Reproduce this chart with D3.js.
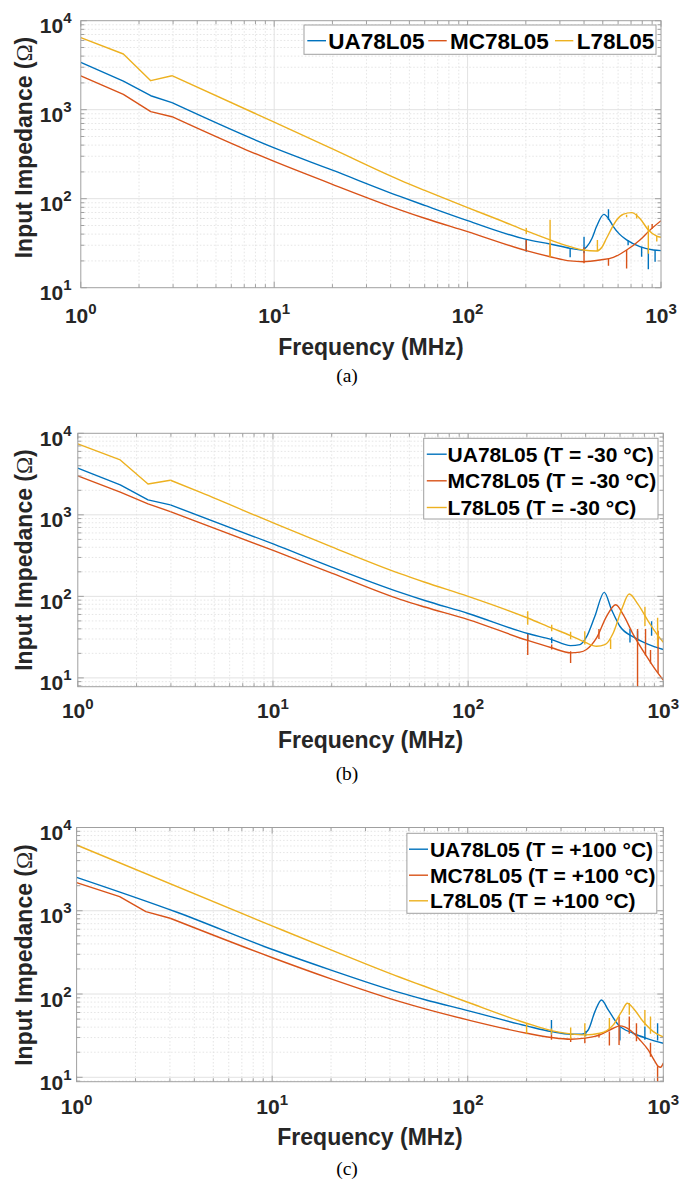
<!DOCTYPE html>
<html><head><meta charset="utf-8">
<script src="https://cdn.jsdelivr.net/npm/d3@7"></script>
<style>body{margin:0;background:#fff}svg{display:block}</style>
</head><body>
<svg id="chart" width="694" height="1180"></svg>
<script>
// ---------- tick labels ----------
const xTicks = [1, 10, 100, 1000];
const xTickExp = ['0', '1', '2', '3'];
const yTicks = [10, 100, 1000, 10000];
const yTickExp = ['1', '2', '3', '4'];

// ---------- legend labels ----------
const legendA = ['UA78L05', 'MC78L05', 'L78L05'];
const legendB = ['UA78L05 (T = -30 °C)', 'MC78L05 (T = -30 °C)', 'L78L05 (T = -30 °C)'];
const legendC = ['UA78L05 (T = +100 °C)', 'MC78L05 (T = +100 °C)', 'L78L05 (T = +100 °C)'];
const colors = ['#0072BD', '#D95319', '#EDB120'];

// ---------- (a) room temperature : [MHz, Ohm] ----------
const uaA = [[1,3410],[1.66,2100],[2.3,1435],[2.96,1200],[10,372],[20,209],[44.7,106],[60,84],[100,56.6],[201,34.9],[267,31],[339,27.7],[389,26.5],[413,28.9],[440,36],[464,48.6],[507,66.7],[540,58],[567,48.6],[610,40],[664,34.4],[778,28.9],[912,26.5],[1000,26.1]];
const mcA = [[1,2393],[1.66,1490],[2.3,951],[2.96,834],[7.2,352],[10,262],[20,145],[44.7,75],[60,60.3],[100,42.6],[201,26.1],[267,22.3],[339,20],[396,19.6],[484,20.5],[567,21.9],[664,26.5],[778,34.4],[878,44.5],[1000,56.6]];
const lA = [[1,6440],[1.66,4226],[2.3,2118],[2.96,2410],[10,725],[20,363],[44.7,162],[60,124],[100,79.3],[147,57.3],[201,43.5],[267,34.4],[339,28.9],[396,26.5],[464,25.8],[495,28.5],[523,35.9],[590,57.7],[640,67],[705,69.7],[778,60],[860,44.5],[951,38],[1000,36.8]];
// spikes : [MHz, Ohm from, Ohm to]
const uaSpA = [[201,34.9,25.4],[339,27.7,22],[400,37.4,24.4],[535,57.7,76],[676,34,30],[794,28.9,22.3],[860,28,16.1],[932,26.5,19.6]];
const mcSpA = [[201,26.1,34.4],[267,22.3,32],[400,28.4,18.8],[535,21.3,17.6],[664,26.5,16.4],[900,46,52]];
const lSpA = [[201,40,47],[267,22,58],[469,25.8,34.4],[664,66,62],[748,68,60],[860,50,24],[951,38,33]];

// ---------- (b) T = -30 °C ----------
const uaB = [[1,3730],[1.65,2330],[2.29,1528],[2.98,1325],[10.1,437],[20,229],[44.8,112],[60,89],[100,61.7],[202,35],[268,29.5],[335,24.9],[374,25.6],[404,31.8],[446,57],[498,112],[543,68.7],[599,43],[702,31.8],[820,26.4],[1000,22.3]];
const mcB = [[1,3000],[1.65,1900],[2.29,1365],[2.98,1096],[10.1,363],[20,193],[44.8,92],[60,74],[100,51.9],[202,28.8],[268,23.4],[335,20.3],[374,20.7],[404,22.3],[455,30.9],[512,57],[571,79],[623,59.7],[702,34],[820,18.5],[923,12.1],[1000,9.4]];
const lB = [[1,7400],[1.65,4710],[2.29,2390],[2.98,2660],[4.29,1875],[10.1,790],[20,405],[44.8,190],[60,149],[100,100],[202,54.3],[268,41],[335,33],[396,27.4],[455,24.4],[502,25.6],[554,35.6],[611,68.7],[669,107],[744,79],[838,49.4],[923,35],[1000,27.4]];
const uaSpB = [[202,35,28.3],[268,31.6,26.7],[675,39.8,27.1],[738,37.9,28.3],[871,49.7,32.9]];
const mcSpB = [[202,34,19.1],[268,25.7,22.3],[335,21.2,15.2],[468,39.8,30.1],[738,39.8,6],[811,39.8,18.8],[860,22,15],[940,38,11.5]];
const lSpB = [[202,65.5,45],[268,45,37.4],[335,36.7,29.8],[396,37.4,25.7],[537,29.8,22.6],[805,74.8,43.2],[935,54.5,24.5]];

// ---------- (c) T = +100 °C ----------
const uaC = [[1,2523],[3.26,960],[10.2,338],[20,194],[45,104],[60,86],[100,63.2],[200,41.4],[268,35.4],[336,32.9],[382,32.9],[413,37],[447,61.5],[483,84.9],[523,64.4],[589,42.6],[702,33.8],[820,29.4],[1000,25.6]];
const mcC = [[1,2173],[1.66,1476],[2.26,975],[3.01,813],[10.2,269],[20,152],[45,81],[60,66.7],[100,48.9],[200,33.8],[268,30],[336,28.6],[397,29.5],[474,32.3],[555,38.8],[600,41.4],[675,37],[759,28.1],[837,21.3],[906,15.5],[942,13.5],[968,13.2],[1000,14.8]];
const lC = [[1,6166],[10.2,645],[20,339],[45,159],[60,124],[100,79.6],[200,44.6],[268,36.4],[336,33.2],[397,32.3],[474,33.8],[555,42.6],[612,61.5],[655,77.5],[702,67.5],[789,46.7],[889,35.4],[1000,30.5]];
const uaSpC = [[268,48.8,32.6],[401,36,31],[600,40.7,27.6],[805,40.7,28.2],[935,44.6,27.6]];
const mcSpC = [[268,32.6,28.2],[336,30,26.5],[397,29.6,25.6],[469,33,30],[530,35.5,24.1],[594,53.6,24.5],[670,53.6,33.3],[729,44.6,27],[860,25.9,17.6],[935,13.6,8]];
const lSpC = [[200,44.6,33.3],[268,38.6,33.3],[336,39.7,28.7],[397,44.6,30.2],[530,51.7,38.6],[670,77.8,56.2],[805,64.5,42],[860,53.6,33.3]];

// ---------- layout ----------
const panels = [
  {series:[uaA,mcA,lA], spikes:[uaSpA,mcSpA,lSpA], legend:legendA, yMin:10,
   L:80.8, R:661, T:20.7, B:287.7, tickBase:323.3, xLabBase:355, yLabX:32.3, yLabCY:147.5,
   cap:'(a)', capBase:382, leg:{mode:'row', box:[304,25,656,54.3], fs:22.5, lineY:40.7, base:49.3,
   items:[[307.3,326,328.3],[428.3,446.7,450],[555,573.3,576.7]]}},
  {series:[uaB,mcB,lB], spikes:[uaSpB,mcSpB,lSpB], legend:legendB, yMin:7.8,
   L:77.8, R:663.3, T:433.3, B:686.7, tickBase:718.3, xLabBase:748.3, yLabX:32, yLabCY:560,
   cap:'(b)', capBase:780, leg:{mode:'col', box:[423.7,438.3,658,519], fs:21, x1:426.8, x2:446.7, tx:447.6,
   bases:[461.7,488.3,515]}},
  {series:[uaC,mcC,lC], spikes:[uaSpC,mcSpC,lSpC], legend:legendC, yMin:8.85,
   L:76.6, R:663.3, T:827.5, B:1081.7, tickBase:1114, xLabBase:1145, yLabX:31.5, yLabCY:955,
   cap:'(c)', capBase:1174.5, leg:{mode:'col', box:[406.9,833.3,656.8,913.3], fs:21, x1:409, x2:428, tx:429.9,
   bases:[856.7,882.7,908.3]}}
];

const svg = d3.select('#chart');
const SANS = "'Liberation Sans', Arial, Helvetica, sans-serif";
const SERIF = "'Liberation Serif', 'Times New Roman', serif";
const frameColor = '#a0a0a0';
const textColor = '#262626';

panels.forEach((p, pi) => {
  const x = d3.scaleLog().domain([1, 1000]).range([p.L, p.R]);
  const y = d3.scaleLog().domain([p.yMin, 10000]).range([p.B, p.T]);
  const g = svg.append('g');

  const xMinor = [], yMinor = [];
  [1, 10, 100].forEach(d => { for (let k = 2; k <= 9; k++) xMinor.push(d * k); });
  [1, 10, 100, 1000].forEach(d => { for (let k = 2; k <= 9; k++) { const v = d * k; if (v >= p.yMin && v <= 10000) yMinor.push(v); } });

  // grid
  const grid = g.append('g');
  grid.selectAll('.xm').data(xMinor).join('line')
    .attr('x1', d => x(d)).attr('x2', d => x(d)).attr('y1', p.T).attr('y2', p.B)
    .attr('stroke', '#dedede').attr('stroke-width', 0.8).attr('stroke-dasharray', '1.5,2');
  grid.selectAll('.ym').data(yMinor).join('line')
    .attr('y1', d => y(d)).attr('y2', d => y(d)).attr('x1', p.L).attr('x2', p.R)
    .attr('stroke', '#dedede').attr('stroke-width', 0.8).attr('stroke-dasharray', '1.5,2');
  grid.selectAll('.xM').data(xTicks.slice(1, -1)).join('line')
    .attr('x1', d => x(d)).attr('x2', d => x(d)).attr('y1', p.T).attr('y2', p.B)
    .attr('stroke', '#e2e2e2').attr('stroke-width', 1);
  grid.selectAll('.yM').data(yTicks.filter(v => v > p.yMin && v < 10000)).join('line')
    .attr('y1', d => y(d)).attr('y2', d => y(d)).attr('x1', p.L).attr('x2', p.R)
    .attr('stroke', '#e2e2e2').attr('stroke-width', 1);

  // clip
  const cid = 'clip' + pi;
  svg.append('clipPath').attr('id', cid).append('rect')
    .attr('x', p.L).attr('y', p.T).attr('width', p.R - p.L).attr('height', p.B - p.T);
  const plot = g.append('g').attr('clip-path', `url(#${cid})`);

  const lin = d3.line().x(d => x(d[0])).y(d => y(d[1])).curve(d3.curveLinear);
  const smooth = d3.line().x(d => x(d[0])).y(d => y(d[1])).curve(d3.curveMonotoneX);

  p.series.forEach((s, si) => {
    const low = s.filter(d => d[0] <= 3.05);
    const hiStart = Math.max(0, low.length - 1);
    const high = s.slice(hiStart);
    if (low.length > 1) plot.append('path').attr('d', lin(low)).attr('fill', 'none')
      .attr('stroke', colors[si]).attr('stroke-width', 1.4).attr('stroke-linejoin', 'round');
    plot.append('path').attr('d', smooth(high)).attr('fill', 'none')
      .attr('stroke', colors[si]).attr('stroke-width', 1.4).attr('stroke-linejoin', 'round');
    plot.selectAll(null).data(p.spikes[si]).join('line')
      .attr('x1', d => x(d[0])).attr('x2', d => x(d[0]))
      .attr('y1', d => y(d[1])).attr('y2', d => y(d[2]))
      .attr('stroke', colors[si]).attr('stroke-width', 1.4);
  });

  // frame
  g.append('rect').attr('x', p.L).attr('y', p.T).attr('width', p.R - p.L).attr('height', p.B - p.T)
    .attr('fill', 'none').attr('stroke', frameColor).attr('stroke-width', 1);
  // ticks (inside, all four sides)
  const tk = g.append('g').attr('stroke', frameColor).attr('stroke-width', 1);
  const xt = xMinor.map(v => [v, 3.5]).concat(xTicks.map(v => [v, 6]));
  xt.forEach(([v, len]) => {
    tk.append('line').attr('x1', x(v)).attr('x2', x(v)).attr('y1', p.B).attr('y2', p.B - len);
    tk.append('line').attr('x1', x(v)).attr('x2', x(v)).attr('y1', p.T).attr('y2', p.T + len);
  });
  const yt = yMinor.map(v => [v, 3.5]).concat(yTicks.filter(v => v >= p.yMin).map(v => [v, 6]));
  yt.forEach(([v, len]) => {
    tk.append('line').attr('y1', y(v)).attr('y2', y(v)).attr('x1', p.L).attr('x2', p.L + len);
    tk.append('line').attr('y1', y(v)).attr('y2', y(v)).attr('x1', p.R).attr('x2', p.R - len);
  });

  // x tick labels
  xTicks.forEach((v, i) => {
    const t = g.append('text').attr('x', x(v)).attr('y', p.tickBase).attr('text-anchor', 'middle')
      .attr('font-family', SANS).attr('font-weight', 'bold').attr('font-size', 21).attr('fill', textColor);
    t.append('tspan').text('10');
    t.append('tspan').attr('font-size', 15).attr('dy', -9.5).text(xTickExp[i]);
  });
  // y tick labels
  yTicks.forEach((v, i) => {
    const t = g.append('text').attr('x', 71.5).attr('y', y(v) + 12.5).attr('text-anchor', 'end')
      .attr('font-family', SANS).attr('font-weight', 'bold').attr('font-size', 21).attr('fill', textColor);
    t.append('tspan').text('10');
    t.append('tspan').attr('font-size', 15).attr('dy', -10).text(yTickExp[i]);
  });

  // axis labels
  g.append('text').attr('x', (p.L + p.R) / 2).attr('y', p.xLabBase).attr('text-anchor', 'middle')
    .attr('font-family', SANS).attr('font-weight', 'bold').attr('font-size', 23).attr('fill', textColor)
    .text('Frequency (MHz)');
  const yl = g.append('text').attr('transform', `translate(${p.yLabX},${p.yLabCY}) rotate(-90)`)
    .attr('text-anchor', 'middle').attr('font-family', SANS).attr('font-weight', 'bold')
    .attr('font-size', 23).attr('fill', textColor);
  yl.append('tspan').text('Input Impedance (');
  yl.append('tspan').attr('font-family', SERIF).attr('font-weight', 'normal').text('Ω');
  yl.append('tspan').text(')');

  // caption
  g.append('text').attr('x', 347).attr('y', p.capBase).attr('text-anchor', 'middle')
    .attr('font-family', SERIF).attr('font-size', 19.5).attr('fill', '#000').text(p.cap);

  // legend
  const lg = p.leg;
  g.append('rect').attr('x', lg.box[0]).attr('y', lg.box[1])
    .attr('width', lg.box[2] - lg.box[0]).attr('height', lg.box[3] - lg.box[1])
    .attr('fill', '#fff').attr('stroke', frameColor).attr('stroke-width', 1);
  p.legend.forEach((name, i) => {
    let x1, x2, tx, ly, tb;
    if (lg.mode === 'row') { [x1, x2, tx] = lg.items[i]; ly = lg.lineY; tb = lg.base; }
    else { x1 = lg.x1; x2 = lg.x2; tx = lg.tx; tb = lg.bases[i]; ly = tb - 7.5; }
    g.append('line').attr('x1', x1).attr('x2', x2).attr('y1', ly).attr('y2', ly)
      .attr('stroke', colors[i]).attr('stroke-width', 1.4);
    g.append('text').attr('x', tx).attr('y', tb).attr('font-family', SANS).attr('font-weight', 'bold')
      .attr('font-size', lg.fs).attr('fill', '#000').text(name);
  });
});
</script>
</body></html>
